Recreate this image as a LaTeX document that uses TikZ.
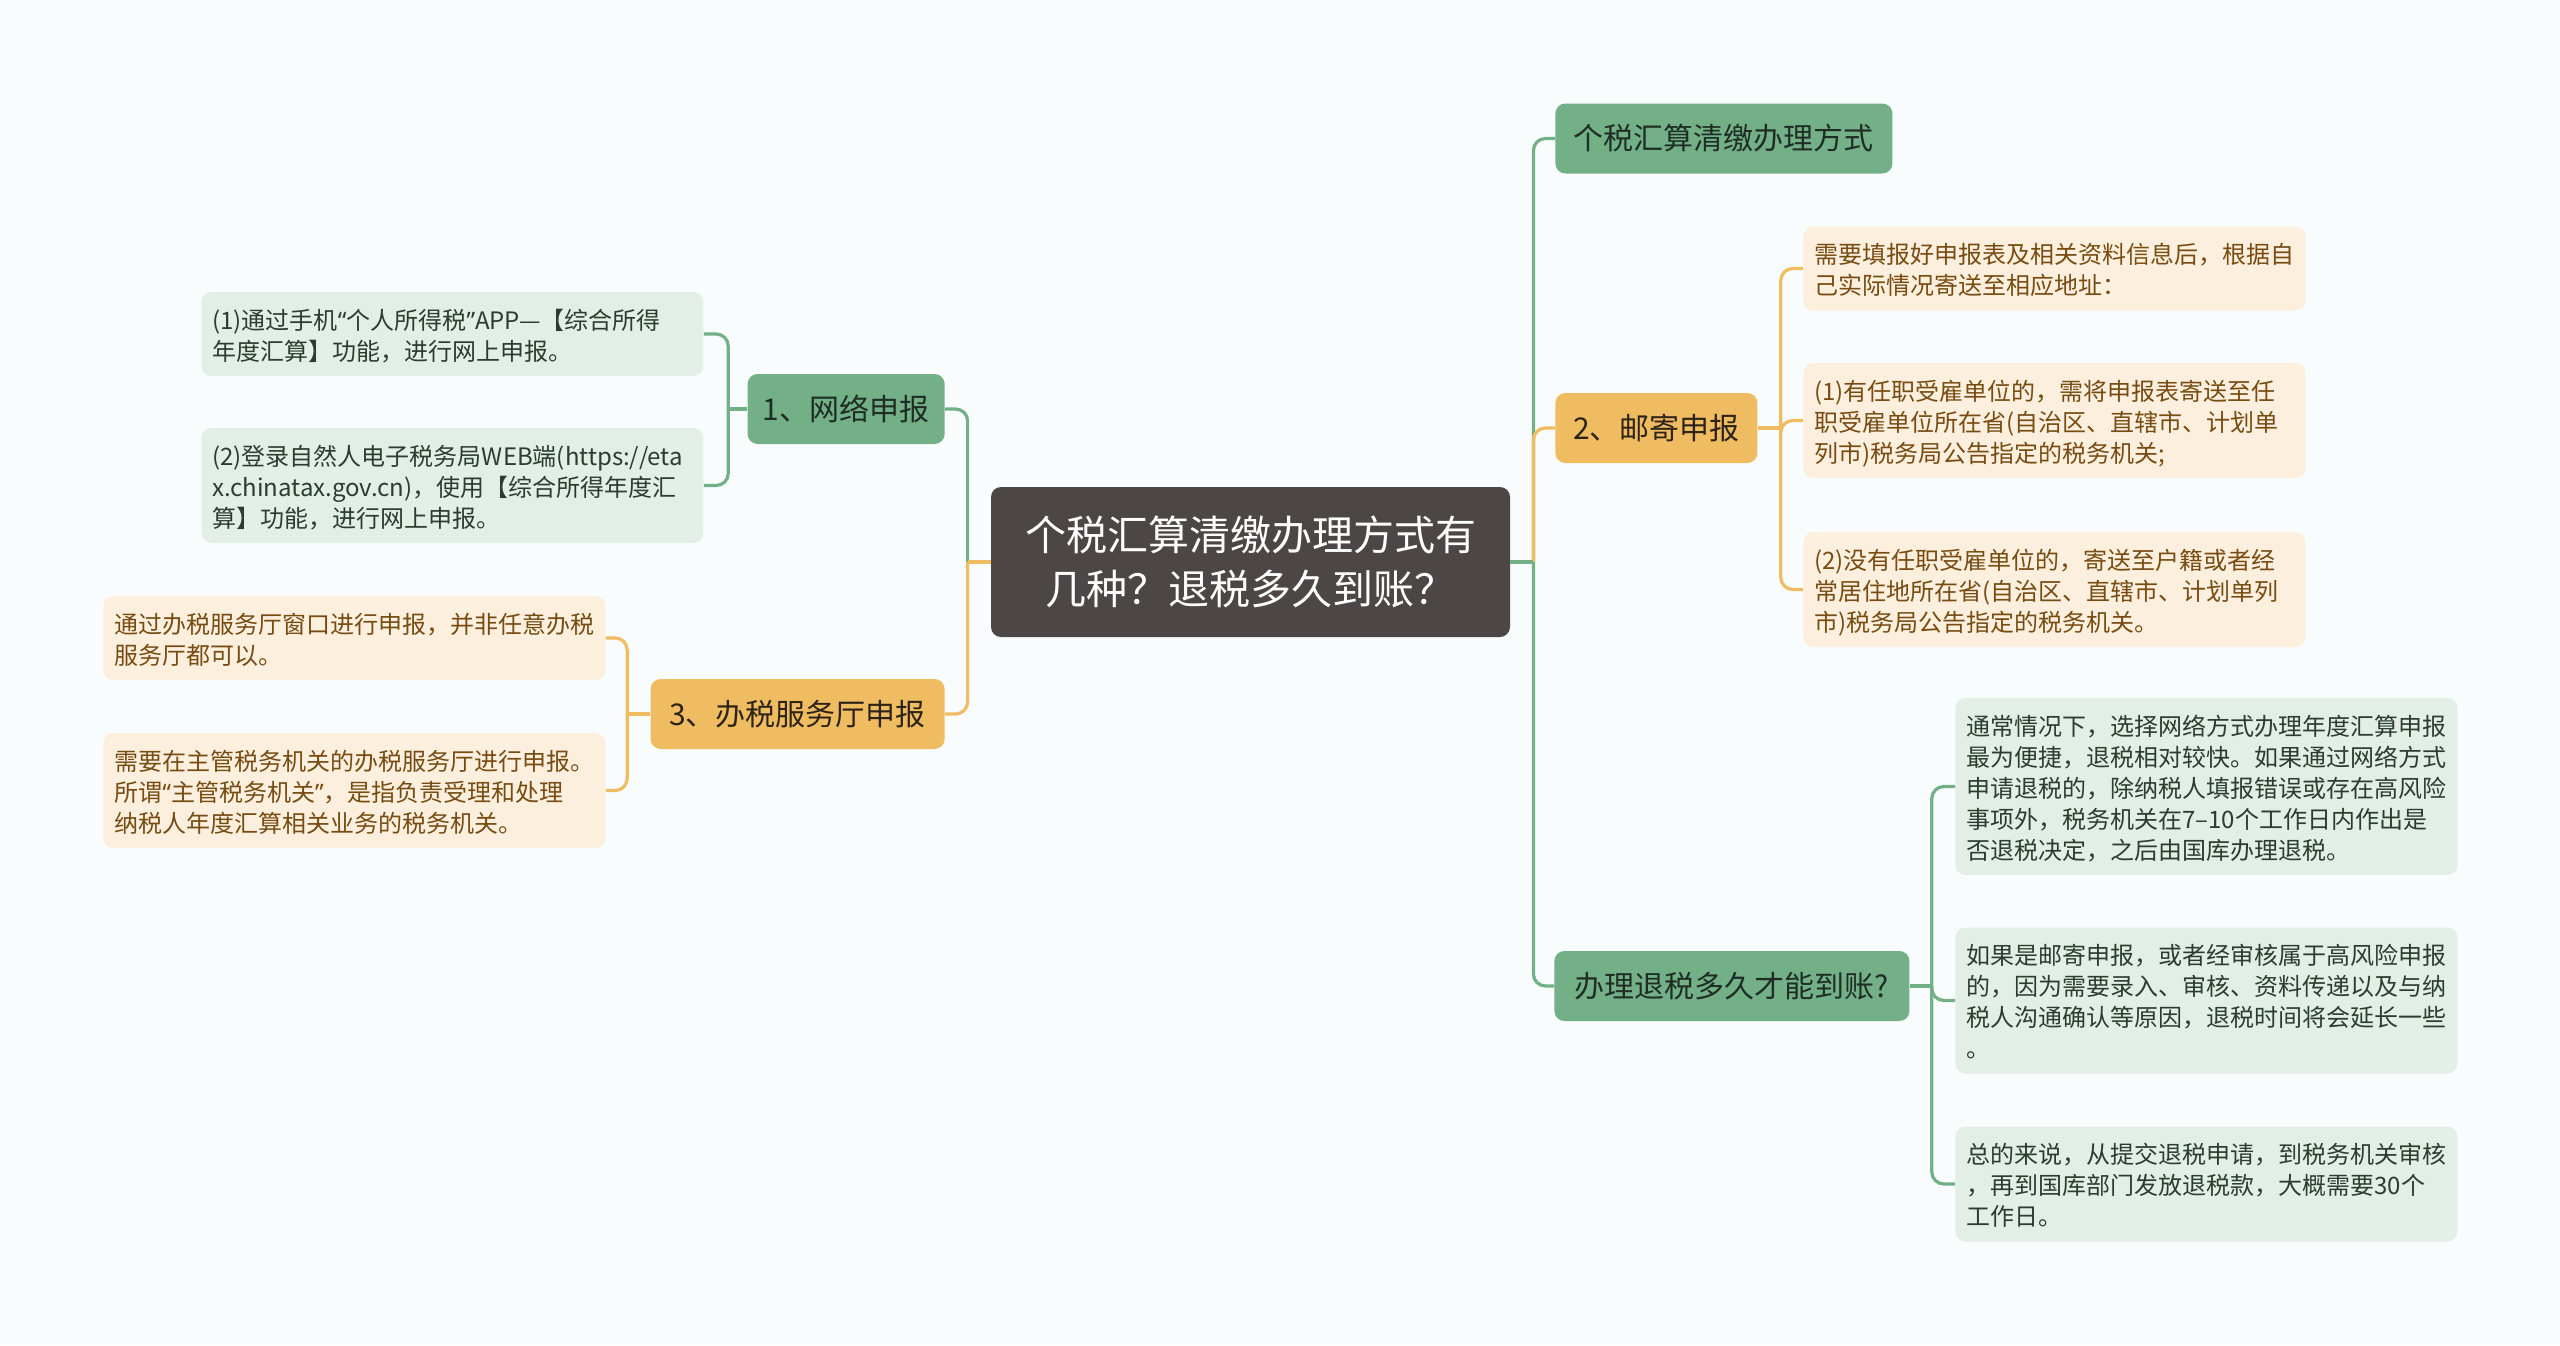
\documentclass[tikz,border=0pt]{standalone}
\usepackage{fontspec}
\setmainfont{Noto Sans CJK SC}
\newfontfamily\latinq{Noto Sans}
\usepackage{tikz}

\definecolor{bgcol}{HTML}{F8FCFD}
\definecolor{rootcol}{HTML}{4C4746}
\definecolor{gnode}{HTML}{73B087}
\definecolor{onode}{HTML}{F0BC62}
\definecolor{gleafcol}{HTML}{E3EFE6}
\definecolor{oleafcol}{HTML}{FDEFDD}
\definecolor{gtext}{HTML}{1F2E24}
\definecolor{otext}{HTML}{2E2416}
\definecolor{gleaftext}{HTML}{2A3D2F}
\definecolor{oleaftext}{HTML}{774C12}

% narrow quotes
\newcommand{\oq}{{\latinq “}}
\newcommand{\cq}{{\latinq ”}}

\begin{document}
\begin{tikzpicture}[x=0.5pt,y=-0.5pt,
	rootbox/.style={fill=rootcol, rounded corners=5pt, text=white, align=center,
		font=\fontsize{20.5pt}{27pt}\selectfont, minimum width=259.5pt, minimum height=75pt, inner sep=0pt},
	branch/.style={rounded corners=5pt, minimum height=35pt, inner sep=0pt,
		font=\fontsize{15pt}{18pt}\selectfont},
	gbranch/.style={branch, fill=gnode, text=gtext},
	obranch/.style={branch, fill=onode, text=otext},
	leaf/.style={anchor=west, rounded corners=5pt, text width=240pt, inner xsep=5.5pt, inner ysep=5.5pt,
		align=left, font=\fontsize{12pt}{15.5pt}\selectfont,
		execute at begin node=\rule{0pt}{13.1pt}, execute at end node=\rule[-2.4pt]{0pt}{2.4pt}},
	gleaf/.style={leaf, fill=gleafcol, text=gleaftext},
	oleaf/.style={leaf, fill=oleafcol, text=oleaftext},
	gline/.style={draw=gnode, line width=1.6pt, rounded corners=6pt},
	oline/.style={draw=onode, line width=1.6pt, rounded corners=6pt}]

	\fill[bgcol] (0,0) rectangle (2560,1345);
	\useasboundingbox (0,0) rectangle (2560,1345);

	%%root
	\node[rootbox] (root) at (1250.5,562) {个税汇算清缴办理方式有\\几种？退税多久到账？};

	%%left side
	\node[gbranch, anchor=east, minimum width=98.5pt] (n1) at (945,409) {1、网络申报};
	\node[obranch, anchor=east, minimum width=147pt] (n3) at (945,714) {3、办税服务厅申报};

	\node[gleaf] (l1) at (201,334) {(1)通过手机\oq 个人所得税\cq APP—【综合所得\\年度汇算】功能，进行网上申报。};
	\node[gleaf] (l2) at (201,485.5) {(2)登录自然人电子税务局WEB端(https://eta\\x.chinatax.gov.cn)，使用【综合所得年度汇\\算】功能，进行网上申报。};
	\node[oleaf] (l3) at (103,638) {通过办税服务厅窗口进行申报，并非任意办税\\服务厅都可以。};
	\node[oleaf] (l4) at (103,790.5) {需要在主管税务机关的办税服务厅进行申报。\\所谓\oq 主管税务机关\cq ，是指负责受理和处理\\纳税人年度汇算相关业务的税务机关。};

	%%right side
	\node[gbranch, anchor=west, minimum width=168.5pt] (r0) at (1555,138.5) {个税汇算清缴办理方式};
	\node[obranch, anchor=west, minimum width=101pt] (n2) at (1555,428) {2、邮寄申报};
	\node[gbranch, anchor=west, minimum width=177.5pt] (n4) at (1554,986) {办理退税多久才能到账?};

	\node[oleaf] (p0) at (1803,268.5) {需要填报好申报表及相关资料信息后，根据自\\己实际情况寄送至相应地址：};
	\node[oleaf] (p1) at (1803,420.5) {(1)有任职受雇单位的，需将申报表寄送至任\\职受雇单位所在省(自治区、直辖市、计划单\\列市)税务局公告指定的税务机关;};
	\node[oleaf] (p2) at (1803,589.5) {(2)没有任职受雇单位的，寄送至户籍或者经\\常居住地所在省(自治区、直辖市、计划单列\\市)税务局公告指定的税务机关。};

	\node[gleaf] (qa) at (1955,786.5) {通常情况下，选择网络方式办理年度汇算申报\\最为便捷，退税相对较快。如果通过网络方式\\申请退税的，除纳税人填报错误或存在高风险\\事项外，税务机关在7–10个工作日内作出是\\否退税决定，之后由国库办理退税。};
	\node[gleaf] (qb) at (1955,1000.5) {如果是邮寄申报，或者经审核属于高风险申报\\的，因为需要录入、审核、资料传递以及与纳\\税人沟通确认等原因，退税时间将会延长一些\\。};
	\node[gleaf] (qc) at (1955,1184) {总的来说，从提交退税申请，到税务机关审核\\，再到国库部门发放退税款，大概需要30个\\工作日。};

	%%junctions
	\coordinate (jl) at ([xshift=-11.5pt]root.west);
	\coordinate (jr) at ([xshift=11.5pt]root.east);
	\coordinate (j1) at ([xshift=-9.5pt]n1.west);
	\coordinate (j3) at ([xshift=-11.5pt]n3.west);
	\coordinate (j2) at ([xshift=11.5pt]n2.east);
	\coordinate (j4) at ([xshift=11pt]n4.east);

	%%connectors
	\draw[gline] (n1.east) -| (jl);
	\draw[oline] (n3.east) -| (jl);
	\draw[oline] (jl) -- (root.west);
	\foreach \l in {l1,l2}
		\draw[gline] (\l.east) -| (j1);
	\draw[gline] (j1) -- (n1.west);
	\foreach \l in {l3,l4}
		\draw[oline] (\l.east) -| (j3);
	\draw[oline] (j3) -- (n3.west);

	\draw[gline] (r0.west) -| (jr);
	\draw[oline] (n2.west) -| (jr);
	\draw[gline] (n4.west) -| (jr);
	\draw[gline] (jr) -- (root.east);
	\foreach \l in {p0,p1,p2}
		\draw[oline] (\l.west) -| (j2);
	\draw[oline] (j2) -- (n2.east);
	\foreach \l in {qa,qb,qc}
		\draw[gline] (\l.west) -| (j4);
	\draw[gline] (j4) -- (n4.east);
\end{tikzpicture}
\end{document}
